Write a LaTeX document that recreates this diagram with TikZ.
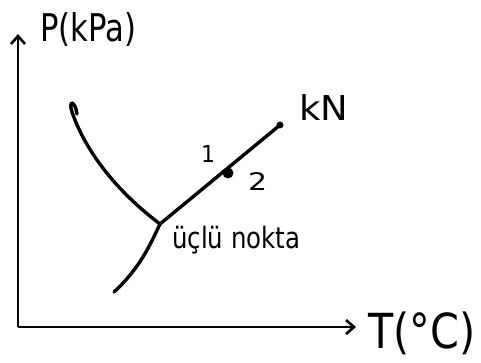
\documentclass[tikz,border=0pt]{standalone}
\usepackage{fontspec}
\usepackage{graphicx}
\setmainfont{DejaVu Sans}
\usetikzlibrary{arrows.meta}
\begin{document}
\begin{tikzpicture}[x=1pt,y=-1pt,
  axis/.style={line width=2.6pt,-{Straight Barb[length=8pt,width=14pt,line width=2.6pt]}},
  curve/.style={line width=3.4pt,line cap=round},
  lbl/.style={inner sep=0pt,anchor=north west}]
\useasboundingbox (0,0) rectangle (481,363);
\coordinate (O) at (18,327);
\coordinate (ytop) at (18,34);
\coordinate (xend) at (356,327);
\draw[axis] (O) -- (ytop);
\draw[axis] (O) -- (xend);
\node[lbl] (P) at (40,12) {\resizebox*{96pt}{34pt}{P(kPa)}};
\node[lbl] (T) at (368,312) {\resizebox*{107pt}{43pt}{T(°C)}};
\coordinate (tp) at (160,224);
\coordinate (kn) at (280,125);
\coordinate (sub) at (114,292);
\draw[curve] (tp) .. controls (115,190) and (85,150) .. (72,112) .. controls (68,100) and (75,100) .. (77,114);
\draw[curve] (tp) .. controls (150,245) and (140,268) .. (sub);
\draw[curve] (tp) -- (kn);
\fill (kn) circle (3.5pt);
\node[circle,fill,inner sep=0pt,minimum size=11pt] (pt) at (228,173) {};
\node[lbl] (n1) at (201,145) {\resizebox*{14pt}{17pt}{1}};
\node[lbl] (n2) at (248,172) {\resizebox*{19pt}{18pt}{2}};
\node[lbl] (kN) at (299,94) {\resizebox*{49pt}{26pt}{kN}};
\node[lbl] (tpl) at (172,226) {\resizebox*{128pt}{28pt}{üçlü nokta}};
\end{tikzpicture}
\end{document}
